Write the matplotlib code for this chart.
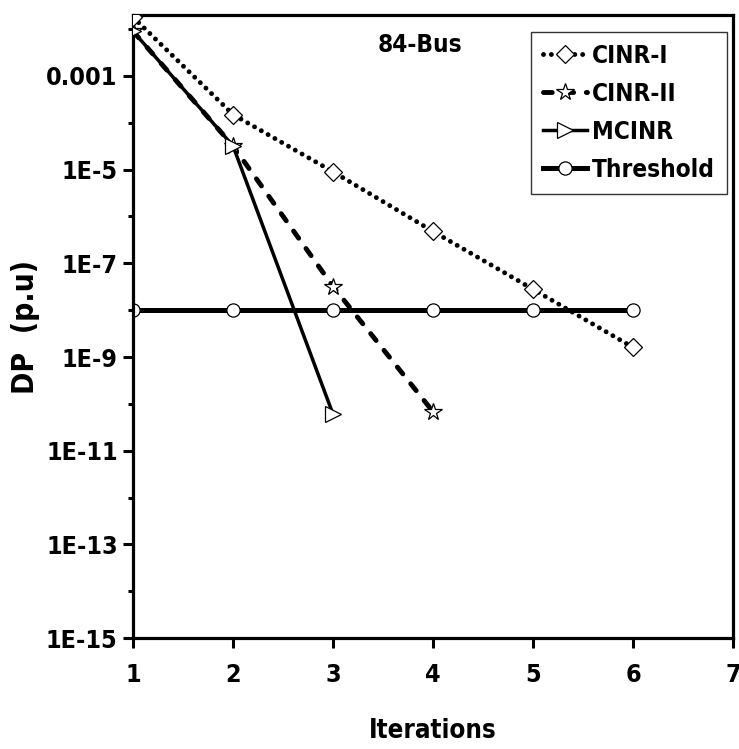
import matplotlib
matplotlib.use("Agg")
import matplotlib.pyplot as plt
from matplotlib.ticker import FixedLocator, FixedFormatter, NullFormatter
from matplotlib import font_manager

iters_cinr1 = [1, 2, 3, 4, 5, 6]
dp_cinr1 = [1.8e-2, 1.5e-4, 9.0e-6, 4.8e-7, 2.8e-8, 1.6e-9]
iters_cinr2 = [1, 2, 3, 4]
dp_cinr2 = [9.0e-3, 3.2e-5, 3.2e-8, 6.8e-11]
iters_mcinr = [1, 2, 3]
dp_mcinr = [9.0e-3, 3.2e-5, 6.0e-11]
iters_thr = [1, 2, 3, 4, 5, 6]
dp_thr = [1e-8, 1e-8, 1e-8, 1e-8, 1e-8, 1e-8]

ytick_vals = [1e-3, 1e-5, 1e-7, 1e-9, 1e-11, 1e-13, 1e-15]
ytick_labels = ["0.001", "1E-5", "1E-7", "1E-9", "1E-11", "1E-13", "1E-15"]
yminor_vals = [1e-2, 1e-4, 1e-6, 1e-8, 1e-10, 1e-12, 1e-14]
xtick_vals = [1, 2, 3, 4, 5, 6, 7]

# look for a condensed / narrow bold face
cands = []
for f in font_manager.fontManager.ttflist:
    low = (f.name + " " + f.fname).lower()
    if "condensed" in str(f.stretch).lower() or "narrow" in low or "condensed" in low:
        cands.append(f)
bold = [f for f in cands if f.weight in ("bold", 700) or "bold" in f.fname.lower()]
chosen = (bold or cands or [None])[0]
if chosen is not None:
    FP = font_manager.FontProperties(fname=chosen.fname)
    k = 1.0
else:
    FP = font_manager.FontProperties(family="Liberation Sans", weight="bold")
    k = 0.85

def fp(size):
    p = FP.copy()
    p.set_size(size * k)
    return p

fig = plt.figure(figsize=(7.39, 7.49), dpi=100)
ax = fig.add_axes([0.18, 0.148, 0.812, 0.832])

mk = dict(markerfacecolor="white", markeredgecolor="black", markeredgewidth=0.9, color="black")
ax.plot(iters_cinr1, dp_cinr1, linestyle=(0, (0.01, 1.6)), lw=3.5, dash_capstyle="round",
        marker="D", ms=9, label="CINR-I", zorder=4, **mk)
ax.plot(iters_cinr2, dp_cinr2, linestyle=(0, (1.8, 2.6)), lw=3.5, dash_capstyle="round",
        marker="*", ms=13, label="CINR-II", zorder=3, **mk)
ax.plot(iters_mcinr, dp_mcinr, linestyle="-", lw=2.5, marker=">", ms=11,
        label="MCINR", zorder=5, **mk)
ax.plot(iters_thr, dp_thr, linestyle="-", lw=3.6, marker="o", ms=9.5,
        label="Threshold", zorder=2, **mk)

ax.set_yscale("log")
ax.set_ylim(1e-15, 2e-2)
ax.set_xlim(1, 7)
ax.yaxis.set_major_locator(FixedLocator(ytick_vals))
ax.yaxis.set_major_formatter(FixedFormatter(ytick_labels))
ax.yaxis.set_minor_locator(FixedLocator(yminor_vals))
ax.yaxis.set_minor_formatter(NullFormatter())
ax.set_xticks(xtick_vals)
ax.set_xticklabels([str(v) for v in xtick_vals])

for s in ax.spines.values():
    s.set_linewidth(2.3)
ax.tick_params(axis="both", which="major", direction="out", length=7, width=2.2)
ax.tick_params(axis="x", which="major", pad=11)
ax.tick_params(axis="y", which="major", pad=4)
ax.tick_params(axis="y", which="minor", direction="out", length=3.5, width=2.2)
ax.tick_params(top=False, right=False, which="both")
for lab in ax.get_xticklabels() + ax.get_yticklabels():
    lab.set_fontproperties(fp(18))

ax.set_xlabel("Iterations", fontproperties=fp(18.5), labelpad=22)
ax.set_ylabel("DP  (p.u)", fontproperties=fp(21.5), labelpad=4)
ax.text(0.478, 0.952, "84-Bus", transform=ax.transAxes, fontproperties=fp(17.5),
        ha="center", va="center")

leg = ax.legend(loc="upper right", bbox_to_anchor=(0.99, 0.973), prop=fp(17.5),
                frameon=True, fancybox=False, edgecolor="black", handlelength=1.8,
                handletextpad=0.2, borderpad=0.5, labelspacing=0.57,
                borderaxespad=0)
leg.get_frame().set_linewidth(1.0)

fig.savefig("out.png", dpi=100)
